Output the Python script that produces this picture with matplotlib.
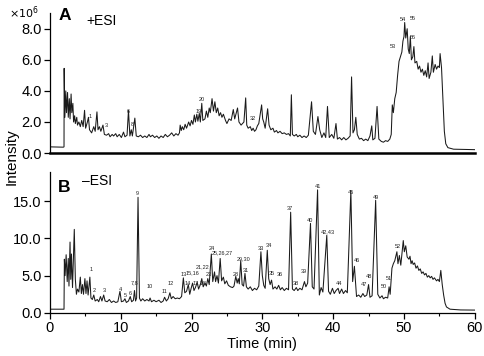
import matplotlib
matplotlib.use("Agg")
import matplotlib.pyplot as plt
from matplotlib.ticker import MultipleLocator

plt.rcParams["font.family"] = ["Liberation Sans", "DejaVu Sans"]

# ---------------- data ---------------- #
# +ESI chromatogram (time in min, intensity x10^6)
pos_time = [0.0, 1.9, 2.0, 2.02, 2.12, 2.25, 2.35, 2.5, 2.6, 2.75, 2.85, 3.0, 3.1, 3.25, 3.35, 3.5,
            3.6, 3.8, 3.9, 4.1, 4.3, 4.5, 4.7, 4.9, 5.05, 5.3, 5.45, 5.6, 5.9, 6.2, 6.4, 6.65,
            6.8, 7.0, 7.2, 7.5, 7.7, 8.0, 8.3, 8.5, 8.8, 9.0, 9.3, 9.5, 9.8, 10.1, 10.4, 10.6,
            10.9, 11.1, 11.3, 11.5, 11.65, 12.0, 12.2, 12.5, 12.8, 13.1, 13.4, 13.7, 14.0, 14.2,
            14.5, 14.8, 15.1, 15.4, 15.7, 16.0, 16.3, 16.6, 16.9, 17.2, 17.5, 17.8, 18.1, 18.3,
            18.4, 18.55, 18.7, 18.9, 19.1, 19.3, 19.6, 19.8, 20.0, 20.2, 20.4, 20.55, 20.75, 20.9,
            21.1, 21.25, 21.45, 21.6, 21.9, 22.1, 22.3, 22.5, 22.65, 22.9, 23.1, 23.3, 23.5, 23.7,
            23.9, 24.1, 24.3, 24.5, 24.8, 25.0, 25.3, 25.6, 25.9, 26.1, 26.5, 26.7, 27.0, 27.4,
            27.65, 27.8, 28.0, 28.3, 28.5, 28.7, 28.9, 29.1, 29.3, 29.5, 29.7, 29.9, 30.05, 30.2,
            30.4, 30.75, 30.95, 31.2, 31.5, 31.7, 32.0, 32.2, 32.5, 32.8, 33.1, 33.4, 33.7, 33.95,
            34.1, 34.25, 34.5, 34.8, 35.0, 35.3, 35.6, 35.9, 36.2, 36.5, 36.95, 37.2, 37.5, 37.85,
            38.1, 38.4, 38.7, 38.95, 39.2, 39.45, 39.8, 40.1, 40.4, 40.6, 40.9, 41.2, 41.5, 41.8,
            42.1, 42.4, 42.6, 42.8, 43.0, 43.2, 43.4, 43.7, 44.0, 44.3, 44.6, 44.9, 45.2, 45.45,
            45.6, 45.9, 46.2, 46.45, 46.8, 47.1, 47.4, 47.7, 48.0, 48.2, 48.35, 48.5, 48.7, 48.9,
            49.1, 49.3, 49.5, 49.7, 49.85, 50.0, 50.1, 50.25, 50.45, 50.6, 50.75, 50.9, 51.05, 51.25,
            51.4, 51.55, 51.8, 52.0, 52.2, 52.4, 52.6, 52.8, 53.0, 53.2, 53.4, 53.55, 53.8, 54.0,
            54.15, 54.4, 54.6, 54.8, 55.0, 55.1, 55.3, 55.5, 55.7, 55.9, 56.2, 57.0, 60.0]
pos_int = [0.40, 0.38, 0.40, 5.45, 2.3, 4.0, 2.6, 3.9, 2.3, 3.5, 2.2, 3.8, 2.6, 3.2, 2.0, 2.4,
           1.9, 2.3, 1.8, 2.0, 1.7, 2.1, 1.7, 2.75, 1.6, 2.0, 2.3, 1.5, 1.3, 1.7, 1.4, 2.65,
           1.5, 1.7, 1.4, 1.8, 1.2, 1.15, 1.25, 1.05, 1.2, 1.1, 1.25, 1.05, 1.2, 1.0, 1.35, 1.05,
           1.15, 2.75, 1.1, 1.5, 1.1, 2.25, 1.1, 1.05, 1.15, 1.0, 1.1, 1.0, 1.2, 1.05,
           1.15, 1.0, 1.1, 0.95, 1.1, 1.0, 1.2, 1.05, 1.15, 1.3, 1.1, 1.25, 1.15, 1.3,
           1.8, 1.45, 1.7, 1.5, 1.85, 1.6, 2.0, 1.75, 2.1, 1.85, 2.45, 2.0, 2.5, 2.05,
           2.55, 2.0, 3.2, 2.1, 2.2, 2.7, 2.3, 2.9, 2.6, 3.5, 2.7, 3.3, 2.6, 2.9,
           2.4, 2.6, 2.3, 2.5, 2.1, 1.9, 2.2, 2.1, 2.8, 2.2, 2.9, 2.0, 1.8, 2.0,
           3.55, 1.8, 1.6, 1.7, 1.45, 1.6, 1.4, 1.5, 1.75, 1.9, 2.5, 3.1, 2.2, 2.0,
           1.6, 2.85, 1.8, 1.5, 1.6, 1.35, 1.45, 1.3, 1.4, 1.25, 1.3, 1.2, 1.25, 1.1,
           3.75, 1.2, 1.1, 1.2, 1.05, 1.15, 1.0, 1.1, 1.0, 1.15, 3.3, 1.4, 1.2, 2.35,
           1.5, 1.0, 1.3, 1.0, 3.0, 1.0, 1.2, 0.95, 1.9, 0.9, 1.0, 0.85, 1.0, 0.85,
           0.95, 1.1, 4.9, 1.3, 1.5, 2.3, 1.2, 0.9, 0.95, 0.8, 0.9, 0.8, 1.1, 1.75,
           0.85, 0.95, 3.0, 0.9, 0.75, 0.7, 0.8, 0.75, 0.9, 1.2, 3.1, 2.6, 3.5, 3.9,
           5.0, 5.9, 6.2, 6.5, 7.2, 7.5, 8.4, 7.4, 8.0, 6.7, 6.4, 7.5, 6.0, 6.2,
           6.85, 5.8, 5.9, 5.4, 5.6, 5.2, 5.4, 5.0, 5.3, 4.9, 5.8, 4.8, 5.2, 6.25,
           5.2, 5.7, 5.4, 5.6, 5.5, 6.4, 5.5, 3.5, 1.4, 0.6, 0.35, 0.25, 0.22]

# -ESI chromatogram (time in min, intensity x10^6)
neg_time = [0.0, 1.95, 2.0, 2.05, 2.15, 2.3, 2.45, 2.6, 2.7, 2.85, 2.95, 3.05, 3.2, 3.45, 3.6, 3.75,
            3.9, 4.1, 4.3, 4.45, 4.6, 4.75, 4.95, 5.1, 5.25, 5.4, 5.65, 5.8, 6.0, 6.2, 6.4, 6.7,
            6.9, 7.15, 7.35, 7.6, 7.8, 8.1, 8.4, 8.7, 9.0, 9.3, 9.6, 9.9, 10.1, 10.4, 10.6, 10.8,
            11.1, 11.35, 11.55, 11.8, 11.95, 12.1, 12.25, 12.45, 12.65, 12.85, 13.1, 13.4, 13.7, 14.0,
            14.15, 14.35, 14.7, 15.0, 15.4, 15.7, 16.0, 16.2, 16.45, 16.7, 16.95, 17.15, 17.4, 17.7,
            18.0, 18.3, 18.6, 18.85, 19.05, 19.3, 19.55, 19.75, 19.95, 20.15, 20.35, 20.55, 20.8, 21.0,
            21.25, 21.45, 21.65, 21.9, 22.1, 22.3, 22.5, 22.8, 23.0, 23.25, 23.4, 23.6, 23.8, 24.05,
            24.25, 24.5, 24.7, 24.95, 25.2, 25.5, 25.8, 26.0, 26.25, 26.45, 26.6, 26.75, 26.95, 27.15,
            27.35, 27.55, 27.75, 28.0, 28.3, 28.6, 28.9, 29.2, 29.5, 29.8, 30.0, 30.2, 30.4, 30.7,
            30.9, 31.1, 31.3, 31.5, 31.8, 32.05, 32.3, 32.55, 32.8, 33.1, 33.4, 33.7, 34.0, 34.25,
            34.5, 34.8, 35.0, 35.3, 35.6, 35.95, 36.15, 36.4, 36.8, 37.05, 37.3, 37.8, 38.05, 38.3,
            38.55, 39.1, 39.35, 39.6, 39.9, 40.15, 40.4, 40.7, 40.9, 41.2, 41.45, 41.75, 42.0, 42.5,
            42.75, 43.0, 43.3, 43.6, 43.9, 44.2, 44.45, 44.75, 45.0, 45.2, 45.5, 46.0, 46.3, 46.6,
            46.9, 47.1, 47.4, 47.7, 47.9, 48.05, 48.3, 48.5, 48.7, 49.0, 49.15, 49.35, 49.55, 49.9,
            50.05, 50.25, 50.45, 50.7, 50.85, 51.0, 51.15, 51.3, 51.5, 51.7, 51.9, 52.1, 52.3, 52.5,
            52.7, 52.9, 53.1, 53.3, 53.5, 53.7, 53.9, 54.1, 54.3, 54.6, 54.8, 55.0, 55.2, 55.4,
            55.6, 55.8, 56.0, 56.5, 58.0, 60.0]
neg_int = [0.5, 0.5, 0.5, 7.2, 5.0, 7.8, 4.2, 7.3, 3.6, 9.5, 4.5, 7.9, 3.4, 11.2, 4.5, 2.5,
           3.2, 2.8, 4.8, 2.6, 3.8, 2.5, 4.6, 2.6, 4.3, 2.4, 4.8, 2.0, 1.8, 2.4, 1.6, 1.8,
           1.5, 2.2, 1.6, 2.4, 1.6, 1.5, 1.8, 1.4, 1.6, 1.4, 1.5, 2.9, 1.5, 1.6, 1.9, 1.4,
           1.6, 2.2, 1.5, 1.7, 3.0, 1.6, 2.0, 15.5, 2.0, 1.6, 1.9, 1.6, 1.8, 1.6,
           2.0, 1.5, 1.7, 1.5, 1.7, 1.4, 1.6, 2.1, 1.6, 1.9, 2.7, 1.9, 2.2, 1.9,
           2.0, 1.9, 2.2, 4.7, 2.7, 2.9, 3.8, 2.5, 3.3, 4.0, 3.0, 3.4, 4.1, 3.2,
           3.8, 4.6, 3.5, 4.0, 3.6, 4.6, 3.8, 7.9, 4.2, 5.5, 4.2, 5.0, 4.0, 7.3,
           4.3, 4.8, 3.9, 4.3, 3.7, 3.5, 3.4, 3.6, 4.9, 4.0, 4.6, 3.9, 7.0, 3.8,
           3.6, 5.3, 3.5, 3.2, 3.5, 3.0, 3.3, 3.1, 3.6, 8.2, 5.0, 3.7, 3.3, 8.4,
           4.6, 3.8, 4.4, 3.2, 3.5, 3.2, 3.7, 3.1, 3.4, 3.0, 3.3, 3.1, 13.5, 3.2,
           3.0, 3.4, 3.0, 3.3, 3.1, 4.2, 3.5, 4.0, 12.0, 3.5, 3.2, 16.5, 2.4, 3.4,
           2.8, 10.4, 2.9, 2.5, 3.3, 2.6, 3.0, 3.3, 2.6, 3.2, 2.6, 3.0, 2.7, 16.4,
           4.2, 6.25, 2.2, 2.4, 2.1, 2.6, 2.2, 2.4, 3.8, 2.1, 2.3, 15.1, 2.5, 2.0,
           2.3, 1.9, 2.1, 2.0, 3.5, 2.5, 6.0, 6.6, 7.0, 8.2, 6.6, 7.7, 6.4, 9.7,
           8.2, 9.0, 7.5, 7.2, 7.6, 6.6, 7.0, 6.5, 6.7, 6.0, 6.3, 5.7, 5.9, 5.3,
           5.5, 5.1, 5.3, 4.8, 5.0, 4.7, 4.9, 4.5, 4.7, 4.3, 4.5, 4.2, 5.7, 3.8,
           2.4, 1.3, 0.8, 0.5, 0.4, 0.38]

# peak labels: text, time, height
pos_labels = ["1", "3", "6", "8", "19", "20", "32", "53", "54", "55", "56"]
pos_label_t = [5.7, 7.9, 11.1, 11.7, 21.0, 21.5, 28.6, 48.5, 49.9, 51.2, 51.2]
pos_label_y = [2.35, 1.8, 2.65, 1.85, 2.65, 3.45, 2.25, 6.85, 8.6, 8.65, 7.45]

neg_labels = ["1", "2", "3", "4", "5", "6", "7,8", "9", "10", "11", "12", "13", "14",
              "15,16", "17,18", "21,22", "23", "24", "25,26,27", "28", "29,30", "31",
              "33", "34", "35", "36", "37", "38", "39", "40", "41", "42,43", "44", "45",
              "46", "47", "48", "49", "50", "51", "52"]
neg_label_t = [5.8, 6.3, 7.7, 10.0, 10.6, 11.4, 12.0, 12.4, 14.1, 16.2, 17.0, 18.9, 19.5,
               20.2, 21.1, 21.6, 22.5, 22.9, 24.3, 26.2, 27.4, 27.7,
               29.8, 30.9, 31.4, 32.5, 33.9, 34.8, 35.9, 36.8, 37.8, 39.2, 40.8, 42.5,
               43.3, 44.3, 45.1, 46.0, 47.1, 47.9, 49.1]
neg_label_y = [5.8, 2.95, 2.95, 3.2, 2.4, 2.6, 4.05, 16.0, 3.6, 2.85, 3.95, 5.1, 4.0,
               5.4, 4.0, 6.2, 5.1, 8.65, 8.0, 5.2, 7.3, 5.75,
               8.7, 9.0, 5.3, 5.1, 14.0, 3.9, 5.5, 12.4, 17.0, 10.9, 3.9, 16.2,
               7.0, 3.8, 4.95, 15.5, 3.6, 4.6, 8.9]


def draw_trace(ax, t, y, labels, lab_t, lab_y, ymax):
    ax.plot(t, y, color="#1a1a1a", linewidth=0.75)
    for txt, lt, ly in zip(labels, lab_t, lab_y):
        ax.text(lt, ly, txt, fontsize=4.0, ha="center", va="center", color="#222222")
    ax.set_xlim(0, 60)
    ax.set_ylim(0, ymax)
    ax.spines["top"].set_visible(False)
    ax.spines["right"].set_visible(False)
    ax.tick_params(axis="both", direction="out", length=4, width=0.9, labelsize=10.5, pad=2)


def main():
    fig = plt.figure(figsize=(4.84, 3.56), dpi=100)
    ax_a = fig.add_axes([0.103, 0.570, 0.878, 0.393])
    ax_b = fig.add_axes([0.103, 0.121, 0.878, 0.396])

    # panel A (+ESI)
    draw_trace(ax_a, pos_time, pos_int, pos_labels, pos_label_t, pos_label_y, 9.0)
    ax_a.set_yticks([0, 2, 4, 6, 8])
    ax_a.set_yticklabels(["0.0", "2.0", "4.0", "6.0", "8.0"])
    ax_a.set_xticks([])
    ax_a.spines["bottom"].set_linewidth(1.8)
    ax_a.spines["left"].set_linewidth(0.9)

    # panel B (-ESI)
    draw_trace(ax_b, neg_time, neg_int, neg_labels, neg_label_t, neg_label_y, 18.9)
    ax_b.set_yticks([0, 5, 10, 15])
    ax_b.set_yticklabels(["0.0", "5.0", "10.0", "15.0"])
    ax_b.set_xticks([0, 10, 20, 30, 40, 50, 60])
    ax_b.xaxis.set_minor_locator(MultipleLocator(5))
    ax_b.tick_params(axis="x", which="minor", direction="out", length=2.5, width=0.8)
    ax_b.spines["bottom"].set_linewidth(0.9)
    ax_b.spines["left"].set_linewidth(0.9)
    ax_b.set_xlabel("Time (min)", fontsize=10.5, labelpad=1)

    # panel letters / annotations
    fig.text(0.12, 0.945, "A", fontsize=12.5, fontweight="bold", ha="left", va="baseline")
    fig.text(0.178, 0.93, "+ESI", fontsize=10, ha="left", va="baseline")
    fig.text(0.12, 0.461, "B", fontsize=12.5, fontweight="bold", ha="left", va="baseline")
    fig.text(0.17, 0.48, "\u2013ESI", fontsize=10, ha="left", va="baseline")
    fig.text(0.05, 0.965, r"$\times10^6$", fontsize=8, ha="center", va="center")
    fig.text(0.025, 0.56, "Intensity", fontsize=11, rotation=90, ha="center", va="center")

    fig.savefig("out.png", dpi=100)
    plt.close(fig)


if __name__ == "__main__":
    main()
